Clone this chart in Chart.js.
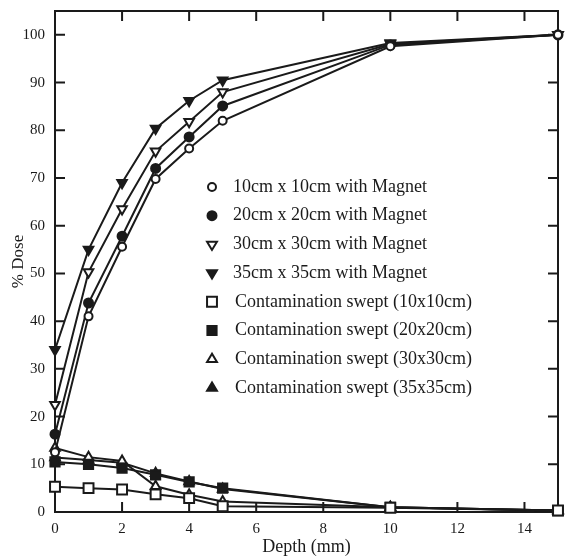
<!DOCTYPE html>
<html>
<head>
<meta charset="utf-8">
<script src="https://cdn.jsdelivr.net/npm/chart.js@4/dist/chart.umd.min.js"></script>
<style>
  html, body { margin: 0; padding: 0; background: #fff; }
  #wrap { width: 567px; height: 559px; }
</style>
</head>
<body>
<div id="wrap"><canvas id="doseChart" width="567" height="559"></canvas></div>
<script>
// Depths (mm) where every curve is sampled
const depths = [0, 1, 2, 3, 4, 5, 10, 15];

// Field sizes with the magnet on
const mag10 = [12.5, 41, 55.6, 69.8, 76.2, 82, 97.6, 100];
const mag20 = [16.3, 43.8, 57.8, 72, 78.6, 85.1, 97.9, 100];
const mag30 = [22.5, 50.3, 63.5, 75.6, 81.8, 88, 98.1, 100];
const mag35 = [34, 55, 69, 80.4, 86.2, 90.5, 98.3, 100];

// Contamination swept out of the beam
const swept10 = [5.3, 5, 4.7, 3.7, 2.9, 1.2, 0.9, 0.3];
const swept20 = [10.5, 10, 9.2, 7.8, 6.3, 5, 1, 0.3];
const swept30 = [13.4, 11.5, 10.7, 5.4, 3.6, 2.2, 1, 0.3];
const swept35 = [11.4, 10.9, 10.3, 8.1, 6.4, 4.8, 1, 0.3];

const seriesLabels = [
    '10cm x 10cm with Magnet',
    '20cm x 20cm with Magnet',
    '30cm x 30cm with Magnet',
    '35cm x 35cm with Magnet',
    'Contamination swept (10x10cm)',
    'Contamination swept (20x20cm)',
    'Contamination swept (30x30cm)',
    'Contamination swept (35x35cm)'
];

const xTicks = [0, 2, 4, 6, 8, 10, 12, 14];
const yTicks = [0, 10, 20, 30, 40, 50, 60, 70, 80, 90, 100];

const INK = '#1a1a1a';
const SERIF = '"Liberation Serif", "Times New Roman", serif';

// marker look for each series: [pointStyle, radius, filled, rotation]
const markers = [
    ['circle', 4, false, 0],
    ['circle', 4.5, true, 0],
    ['triangle', 5.5, false, 180],
    ['triangle', 5.5, true, 180],
    ['rect', 7, false, 0],
    ['rect', 6.5, true, 0],
    ['triangle', 5.5, false, 0],
    ['triangle', 5.5, true, 0]
];

function toPoints(values) {
    return values.map((v, i) => ({ x: depths[i], y: v }));
}

const allValues = [mag10, mag20, mag30, mag35, swept10, swept20, swept30, swept35];

const datasets = allValues.map((vals, i) => {
    const m = markers[i];
    return {
        label: seriesLabels[i],
        data: toPoints(vals),
        borderColor: INK,
        borderWidth: 2,
        pointStyle: m[0],
        pointRadius: m[1],
        pointRotation: m[3],
        pointBackgroundColor: m[2] ? INK : '#fff',
        pointBorderColor: INK,
        pointBorderWidth: 2,
        tension: 0,
        fill: false,
        clip: false
    };
});

// Frame plus ticks pointing into the plot, on all four sides
const frameTicks = {
    id: 'frameTicks',
    beforeDatasetsDraw(chart) {
        const { ctx, chartArea: a, scales: { x, y } } = chart;
        ctx.save();
        ctx.strokeStyle = INK;
        ctx.lineWidth = 2;
        ctx.strokeRect(a.left, a.top, a.right - a.left, a.bottom - a.top);
        ctx.beginPath();
        x.ticks.forEach(t => {
            if (t.value <= x.min || t.value >= x.max) return;
            const px = x.getPixelForValue(t.value);
            ctx.moveTo(px, a.bottom); ctx.lineTo(px, a.bottom - 10);
            ctx.moveTo(px, a.top); ctx.lineTo(px, a.top + 10);
        });
        y.ticks.forEach(t => {
            if (t.value <= y.min) return;
            const py = y.getPixelForValue(t.value);
            ctx.moveTo(a.left, py); ctx.lineTo(a.left + 10, py);
            ctx.moveTo(a.right, py); ctx.lineTo(a.right - 10, py);
        });
        ctx.stroke();
        ctx.restore();
    }
};

function drawMarker(ctx, m, cx, cy) {
    const [style, r, filled, rot] = m;
    ctx.beginPath();
    if (style === 'circle') {
        ctx.arc(cx, cy, r, 0, Math.PI * 2);
    } else if (style === 'rect') {
        const s = r * Math.SQRT1_2;
        ctx.rect(cx - s, cy - s, 2 * s, 2 * s);
    } else {
        const dir = rot === 180 ? -1 : 1;
        const h = r * 1.5;
        ctx.moveTo(cx, cy - dir * h * 2 / 3);
        ctx.lineTo(cx - r * 0.9, cy + dir * h / 3);
        ctx.lineTo(cx + r * 0.9, cy + dir * h / 3);
        ctx.closePath();
    }
    ctx.fillStyle = filled ? INK : '#fff';
    ctx.fill();
    ctx.lineWidth = 2;
    ctx.strokeStyle = INK;
    ctx.stroke();
}

// Legend sits inside the plot, like the printed figure
const insideLegend = {
    id: 'insideLegend',
    afterDraw(chart) {
        const { ctx } = chart;
        ctx.save();
        ctx.font = '18px ' + SERIF;
        ctx.fillStyle = INK;
        ctx.textBaseline = 'middle';
        chart.data.datasets.forEach((ds, i) => {
            const ly = 187 + i * 28.7;
            drawMarker(ctx, markers[i], 212, ly);
            ctx.fillStyle = INK;
            ctx.fillText(ds.label, i < 4 ? 233 : 235, ly);
        });
        ctx.restore();
    }
};

const ctx = document.getElementById('doseChart').getContext('2d');
new Chart(ctx, {
    type: 'line',
    data: { datasets: datasets },
    options: {
        responsive: false,
        animation: false,
        layout: { padding: { top: 11, right: 2, left: 0, bottom: 0 } },
        plugins: {
            legend: { display: false },
            tooltip: { enabled: false }
        },
        scales: {
            x: {
                type: 'linear',
                min: 0,
                max: 15,
                afterBuildTicks: s => { s.ticks = xTicks.map(v => ({ value: v })); },
                afterFit: s => {
                    s.height = 47;
                    s.paddingLeft = 0;
                    s.paddingRight = 0;
                },
                grid: { display: false, drawTicks: false },
                border: { display: false },
                ticks: {
                    padding: 8,
                    color: INK,
                    font: { family: SERIF, size: 15 }
                },
                title: {
                    display: true,
                    text: 'Depth (mm)',
                    color: INK,
                    padding: { top: 0, bottom: 1 },
                    font: { family: SERIF, size: 18 }
                }
            },
            y: {
                type: 'linear',
                min: 0,
                max: 105,
                afterBuildTicks: s => { s.ticks = yTicks.map(v => ({ value: v })); },
                afterFit: s => {
                    s.width = 55;
                    s.paddingTop = 0;
                    s.paddingBottom = 0;
                },
                grid: { display: false, drawTicks: false },
                border: { display: false },
                ticks: {
                    padding: 10,
                    color: INK,
                    font: { family: SERIF, size: 15 }
                },
                title: {
                    display: true,
                    text: '% Dose',
                    color: INK,
                    padding: { top: 8, bottom: 0 },
                    font: { family: SERIF, size: 17 }
                }
            }
        }
    },
    plugins: [frameTicks, insideLegend]
});
</script>
</body>
</html>
